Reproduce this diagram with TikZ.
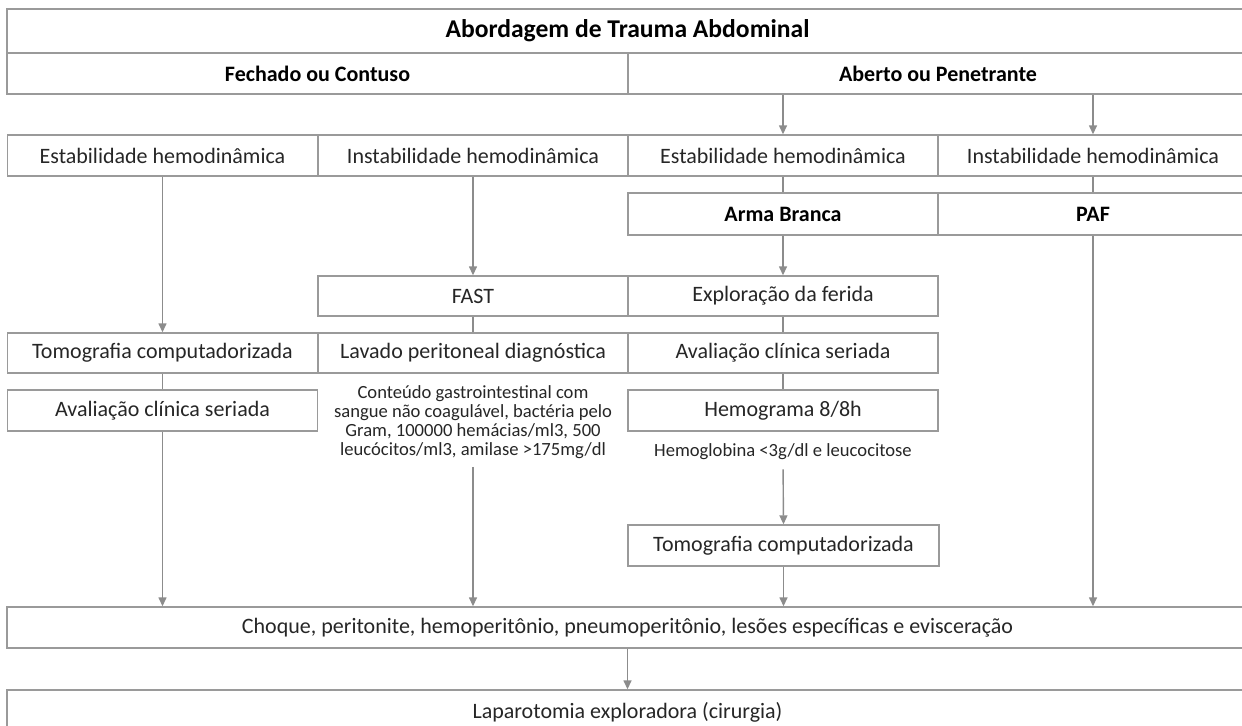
\documentclass[tikz,border=0pt]{standalone}
\usepackage{fontspec}
\setmainfont{Carlito}
\usetikzlibrary{arrows.meta}
\definecolor{linha}{HTML}{8C8C8C}
\definecolor{borda}{HTML}{9A9A9A}
\definecolor{texto}{HTML}{262626}

\begin{document}
\begin{tikzpicture}[x=0.5pt,y=-0.5pt,
    caixa/.style={rectangle,draw=borda,line width=0.7pt,inner sep=0pt,
        minimum height=20.5pt,text=texto,font=\fontsize{11}{13}\selectfont},
    coluna/.style={caixa,minimum width=155pt},
    negrito/.style={font=\fontsize{11}{13}\selectfont\bfseries,text=black},
    nota/.style={align=center,inner sep=0pt,text=texto,
        font=\fontsize{9.3}{9.5}\selectfont},
    liga/.style={draw=linha,line width=0.7pt},
    seta/.style={liga,-{Triangle[width=4pt,length=4.5pt]}}]
\useasboundingbox (0,0) rectangle (1242,725);
% cabecalho
\node[caixa,negrito,font=\fontsize{12.8}{15}\selectfont\bfseries,minimum width=620.5pt,minimum height=22pt] (titulo) at (627.5,31) {Abordagem de Trauma Abdominal};
\node[caixa,negrito,minimum width=310.5pt] (fechado) at (317.5,73.5) {Fechado ou Contuso};
\node[caixa,negrito,minimum width=310pt] (aberto) at (938,73.5) {Aberto ou Penetrante};
% estabilidade
\node[coluna] (est1) at (162.5,155.5) {Estabilidade hemodinâmica};
\node[coluna] (inst1) at (473,155.5) {Instabilidade hemodinâmica};
\node[coluna] (est2) at (783,155.5) {Estabilidade hemodinâmica};
\node[coluna] (inst2) at (1093,155.5) {Instabilidade hemodinâmica};
\node[coluna,negrito,minimum height=21pt] (arma) at (783,214) {Arma Branca};
\node[coluna,negrito,minimum height=21pt] (paf) at (1093,214) {PAF};
% exames
\node[coluna,minimum height=20pt] (fast) at (473,296) {FAST};
\node[coluna,minimum height=20pt] (explo) at (783,296) {Exploração da ferida};
\node[coluna,minimum height=20pt] (tomo1) at (162.5,353) {Tomografia computadorizada};
\node[coluna,minimum height=20pt] (lavado) at (473,353) {Lavado peritoneal diagnóstica};
\node[coluna,minimum height=20pt] (aval2) at (783,353) {Avaliação clínica seriada};
\node[coluna] (aval1) at (162.5,410.5) {Avaliação clínica seriada};
\node[coluna] (hemo) at (783,410.5) {Hemograma 8/8h};
\node[nota] (conteudo) at (473,422) {Conteúdo gastrointestinal com\\sangue não coagulável, bactéria pelo\\Gram, 100000 hemácias/ml3, 500\\leucócitos/ml3, amilase >175mg/dl};
\node[nota] (hemoglobina) at (783,452) {Hemoglobina <3g/dl e leucocitose};
\node[coluna,minimum width=155.5pt] (tomo2) at (783.5,545.5) {Tomografia computadorizada};
% conduta
\node[caixa,minimum width=620.5pt] (choque) at (627.5,627.5) {Choque, peritonite, hemoperitônio, pneumoperitônio, lesões específicas e evisceração};
\node[caixa,minimum width=620.5pt,minimum height=22pt] (lapa) at (627.5,712) {Laparotomia exploradora (cirurgia)};
% ligacoes
\draw[seta] (aberto.south -| est2) -- (est2.north);
\draw[seta] (aberto.south -| inst2) -- (inst2.north);
\draw[seta] (est1.south) -- (tomo1.north);
\draw[seta] (inst1.south) -- (fast.north);
\draw[liga] (est2.south) -- (arma.north);
\draw[liga] (inst2.south) -- (paf.north);
\draw[seta] (arma.south) -- (explo.north);
\draw[seta] (paf.south) -- (paf.south |- choque.north);
\draw[liga] (fast.south) -- (lavado.north);
\draw[liga] (explo.south) -- (aval2.north);
\draw[liga] (tomo1.south) -- (aval1.north);
\draw[liga] (aval2.south) -- (hemo.north);
\draw[seta] (aval1.south) -- (aval1.south |- choque.north);
\draw[seta,shorten <=4pt] (conteudo.south) -- (conteudo.south |- choque.north);
\draw[seta,shorten <=4.5pt] (hemoglobina.south) -- (tomo2.north);
\draw[seta] (tomo2.south) -- (tomo2.south |- choque.north);
\draw[seta] (choque.south) -- (lapa.north);
\end{tikzpicture}
\end{document}
